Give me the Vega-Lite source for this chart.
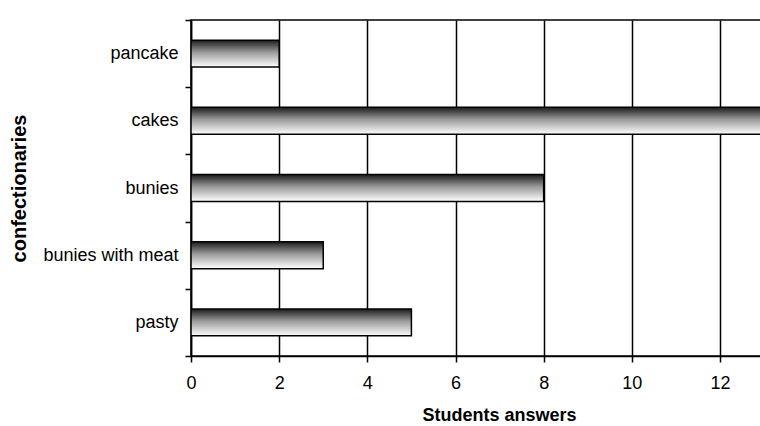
{
  "$schema": "https://vega.github.io/schema/vega-lite/v6.json",
  "autosize": "none",
  "padding": {"left": 191, "top": 20, "right": 0, "bottom": 70},
  "width": 570,
  "height": 336,
  "background": "white",
  "config": {
    "font": "Liberation Sans",
    "view": {"stroke": "black", "strokeWidth": 1.5},
    "axis": {
      "domainColor": "black",
      "domainWidth": 1.5,
      "tickColor": "black",
      "tickWidth": 1.5,
      "tickSize": 6,
      "labelColor": "black",
      "labelFont": "Liberation Sans",
      "labelFontSize": 18,
      "titleColor": "black",
      "titleFont": "Liberation Sans",
      "titleFontWeight": "bold",
      "titleFontSize": 18
    }
  },
  "data": {
    "values": [
      {"item": "pancake", "answers": 2},
      {"item": "cakes", "answers": 13},
      {"item": "bunies", "answers": 8},
      {"item": "bunies with meat", "answers": 3},
      {"item": "pasty", "answers": 5}
    ]
  },
  "mark": {
    "type": "bar",
    "clip": true,
    "height": {"band": 0.4},
    "stroke": "black",
    "strokeWidth": 1.5,
    "color": {
      "gradient": "linear",
      "x1": 0, "y1": 0, "x2": 0, "y2": 1,
      "stops": [
        {"offset": 0, "color": "#1c1c1c"},
        {"offset": 0.45, "color": "#9a9a9a"},
        {"offset": 1, "color": "#ffffff"}
      ]
    }
  },
  "encoding": {
    "y": {
      "field": "item",
      "type": "nominal",
      "sort": null,
      "scale": {"paddingInner": 0, "paddingOuter": 0},
      "axis": {
        "title": "confectionaries",
        "titleFontSize": 20,
        "tickBand": "extent",
        "labelPadding": 7,
        "titlePadding": 13
      }
    },
    "x": {
      "field": "answers",
      "type": "quantitative",
      "scale": {"domain": [0, 12.93], "nice": false},
      "axis": {
        "title": "Students answers",
        "titleX": 308,
        "values": [0, 2, 4, 6, 8, 10, 12],
        "labelFlush": false,
        "grid": true,
        "gridColor": "black",
        "gridWidth": 1.5,
        "gridOpacity": 1,
        "labelPadding": 12,
        "titlePadding": 14
      }
    }
  }
}
